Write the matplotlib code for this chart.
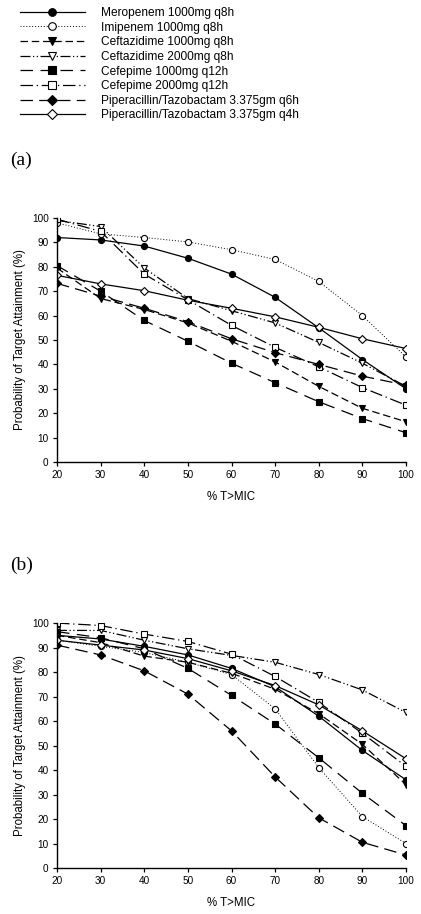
import matplotlib.pyplot as plt
import numpy as np

# % T>MIC targets
t_mic = [20, 30, 40, 50, 60, 70, 80, 90, 100]

labels = [
    "Meropenem 1000mg q8h",
    "Imipenem 1000mg q8h",
    "Ceftazidime 1000mg q8h",
    "Ceftazidime 2000mg q8h",
    "Cefepime 1000mg q12h",
    "Cefepime 2000mg q12h",
    "Piperacillin/Tazobactam 3.375gm q6h",
    "Piperacillin/Tazobactam 3.375gm q4h",
]

# panel (a)
mero_a = [92, 91, 88.5, 83.5, 77, 67.5, 55, 42, 30]
imi_a = [98, 93.5, 92, 90.2, 87, 83, 74, 60, 43]
caz1_a = [79.5, 67, 62.5, 57, 49.5, 41, 31, 22, 16.5]
caz2_a = [99, 96.5, 79.5, 67, 62, 57, 49, 40.5, 31]
fep1_a = [80.5, 70, 58, 49.5, 40.5, 32.5, 24.7, 17.8, 12]
fep2_a = [99.5, 94.5, 77, 66.5, 56, 47, 39, 30.5, 23.3]
tzp6_a = [73.2, 68, 63, 57.5, 50.5, 44.8, 40, 35.2, 31.5]
tzp4_a = [76.5, 73, 70.2, 66.3, 63, 59.5, 55.2, 50.5, 46.5]

# panel (b)
mero_b = [95, 93.5, 90.5, 87, 81.5, 74, 62, 48, 36]
imi_b = [93, 90.5, 88, 84, 79, 65, 41, 21, 10]
caz1_b = [95, 92, 86.5, 84, 79.5, 73, 63, 50.5, 34]
caz2_b = [97, 97, 93, 89.5, 86.8, 84, 79, 72.7, 63.5]
fep1_b = [96.5, 94, 89.5, 81.5, 70.5, 58.8, 45, 30.5, 17.3]
fep2_b = [100, 99, 95.5, 92.5, 87.3, 78.2, 67.6, 55, 41.5]
tzp6_b = [91, 87, 80.5, 71, 56, 37.2, 20.5, 10.5, 5.3]
tzp4_b = [93, 91, 89, 85.5, 80.5, 74.5, 66.6, 56, 44.6]

series_a = [mero_a, imi_a, caz1_a, caz2_a, fep1_a, fep2_a, tzp6_a, tzp4_a]
series_b = [mero_b, imi_b, caz1_b, caz2_b, fep1_b, fep2_b, tzp6_b, tzp4_b]

styles = [
    dict(ls="-", marker="o", mfc="black"),
    dict(ls=(0, (1, 2)), marker="o", mfc="white", lw=0.7),
    dict(ls=(0, (6, 3)), marker="v", mfc="black"),
    dict(ls=(0, (8, 2, 1, 2, 1, 2)), marker="v", mfc="white"),
    dict(ls=(0, (10, 6)), marker="s", mfc="black"),
    dict(ls=(0, (10, 3, 1, 3)), marker="s", mfc="white"),
    dict(ls=(0, (10, 5)), marker="D", mfc="black"),
    dict(ls="-", marker="D", mfc="white"),
]

plt.rcParams["font.family"] = ["Liberation Sans", "DejaVu Sans"]

fig = plt.figure(figsize=(4.21, 9.14), dpi=100)


def draw_panel(ax, series):
    for vals, lab, st in zip(series, labels, styles):
        st = dict(st)
        lw = st.pop("lw", 0.9)
        ms = 4.4 if st["marker"] != "D" else 4.0
        ax.plot(t_mic, vals, color="black", lw=lw, mec="black", mew=0.8,
                ms=ms, label=lab, **st)
    ax.set_xlim(20, 100)
    ax.set_ylim(0, 100)
    ax.set_xticks(t_mic)
    ax.set_yticks(np.arange(0, 101, 10))
    for s in ["top", "right"]:
        ax.spines[s].set_visible(False)
    ax.spines["left"].set_linewidth(1.0)
    ax.spines["bottom"].set_linewidth(1.0)
    ax.tick_params(labelsize=7.2, length=3, width=0.9, pad=3)
    ax.set_xlabel("% T>MIC", fontsize=8.3, labelpad=8)
    ax.set_ylabel("Probability of Target Attainment (%)", fontsize=8.3, labelpad=4)
    for lbl in ax.get_xticklabels() + ax.get_yticklabels():
        lbl.set_clip_on(False)


ax_a = fig.add_axes([0.1354, 0.4945, 0.829, 0.267])
draw_panel(ax_a, series_a)
ax_b = fig.add_axes([0.1354, 0.0503, 0.829, 0.268])
draw_panel(ax_b, series_b)

fig.text(10 / 421, 1 - 160 / 914, "(a)", family="Liberation Serif", fontsize=14, va="center")
fig.text(10 / 421, 1 - 565 / 914, "(b)", family="Liberation Serif", fontsize=14, va="center")

handles, labs = ax_a.get_legend_handles_labels()
fig.legend(handles, labs, loc="upper left", bbox_to_anchor=(20 / 421, 1 - 7 / 914),
           frameon=False, fontsize=8.6, handlelength=5.4, handletextpad=1.4,
           labelspacing=0.22, borderpad=0, borderaxespad=0, markerscale=1.25)

fig.savefig("out.png", dpi=100)
